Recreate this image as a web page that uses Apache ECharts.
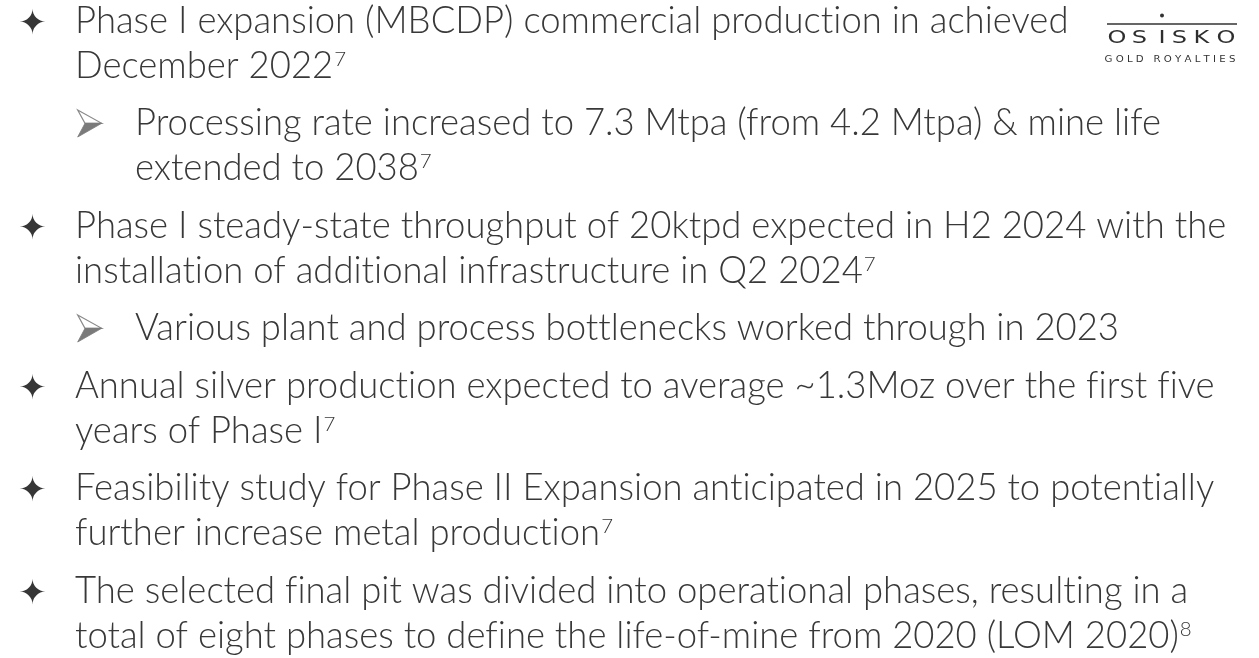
<!DOCTYPE html>
<html><head><meta charset="utf-8">
<script src="https://cdn.jsdelivr.net/npm/echarts@6/dist/echarts.min.js"></script>
<style>
html,body{margin:0;padding:0;background:#fff}
#c{width:1259px;height:658px}
</style>
</head><body><div id="c"></div>
<script>
// disable ligatures (Lato "ti"/"fi") for canvas text, consistently for measuring and drawing
(function () {
  const P = CanvasRenderingContext2D.prototype;
  const f = P.fillText, m = P.measureText;
  P.fillText = function () { try { this.textRendering = 'optimizeSpeed'; } catch (e) {} return f.apply(this, arguments); };
  P.measureText = function () { try { this.textRendering = 'optimizeSpeed'; } catch (e) {} return m.apply(this, arguments); };
})();

// ---- content ----
const bulletLevels = [1, 2, 1, 2, 1, 1, 1];
const bulletLines = [
  ["Phase I expansion (MBCDP) commercial production in achieved", "December 2022"],
  ["Processing rate increased to 7.3 Mtpa (from 4.2 Mtpa) & mine life", "extended to 2038"],
  ["Phase I steady-state throughput of 20ktpd expected in H2 2024 with the", "installation of additional infrastructure in Q2 2024"],
  ["Various plant and process bottlenecks worked through in 2023"],
  ["Annual silver production expected to average ~1.3Moz over the first five", "years of Phase I"],
  ["Feasibility study for Phase II Expansion anticipated in 2025 to potentially", "further increase metal production"],
  ["The selected final pit was divided into operational phases, resulting in a", "total of eight phases to define the life-of-mine from 2020 (LOM 2020)"]
];
const footnoteRefs = ["7", "7", "7", "", "7", "7", "8"];
const starGlyph = "\u2726";
const logoLetters = ["O", "S", "I", "S", "K", "O"];
const logoTagline = "G O L D   R O Y A L T I E S";

// ---- layout ----
const FAMILY = 'Lato, "Open Sans", sans-serif';
const WEIGHT = 300;
const TEXT_COLOR = '#383838';
const ctx = document.createElement('canvas').getContext('2d');
function measure(t, font) { ctx.font = font; return ctx.measureText(t).width; }

const refWidth = 1140;
const F = 1.01 * 100 * refWidth / measure(bulletLines[2][0], WEIGHT + ' 100px ' + FAMILY);
const FS = F * 0.56;
const mainFont = WEIGHT + ' ' + F.toFixed(2) + 'px ' + FAMILY;
const supFont = WEIGHT + ' ' + FS.toFixed(2) + 'px ' + FAMILY;

const firstBaseline = 35, lineStep = 45, paraGap = 57.5;
const textX = { 1: 75, 2: 135 };
const MID = 0.387;

const graphics = [];
let baseline = firstBaseline;
bulletLines.forEach((lines, pi) => {
  const lvl = bulletLevels[pi];
  if (pi > 0) baseline += paraGap;
  if (lvl === 1) {
    graphics.push({
      type: 'text', x: 32.5, y: baseline - 10,
      style: { text: starGlyph, x: 0, y: 0, textAlign: 'center', textVerticalAlign: 'middle',
        font: '34px "DejaVu Sans"', fill: '#363636' }
    });
  } else {
    const b = baseline;
    graphics.push({
      type: 'polygon',
      shape: { points: [[77.7, b - 27.5], [101.7, b - 14.2], [85, b - 14.2]] },
      style: { fill: '#fff', stroke: '#8a8a8a', lineWidth: 1.2, lineJoin: 'miter' }
    });
    graphics.push({
      type: 'polygon',
      shape: { points: [[85, b - 14.2], [101.7, b - 14.2], [77.7, b - 0.5]] },
      style: { fill: '#7a7a7a', stroke: '#7a7a7a', lineWidth: 0.8 }
    });
  }
  lines.forEach((ln, li) => {
    if (li > 0) baseline += lineStep;
    graphics.push({
      type: 'text',
      style: { text: ln, x: textX[lvl], y: baseline - MID * F, textVerticalAlign: 'middle', font: mainFont, fill: TEXT_COLOR }
    });
    if (li === lines.length - 1 && footnoteRefs[pi]) {
      const w = measure(ln, mainFont);
      graphics.push({
        type: 'text',
        style: { text: footnoteRefs[pi], x: textX[lvl] + w + 1, y: baseline - 13 - MID * FS, textVerticalAlign: 'middle', font: supFont, fill: TEXT_COLOR }
      });
    }
  });
});

// ---- logo ----
const logoCenters = [1117, 1139.5, 1162, 1179.5, 1201.5, 1226];
logoLetters.forEach((ch, i) => {
  graphics.push({
    type: 'text', x: logoCenters[i], y: 38.5, scaleX: 1.3,
    style: { text: ch, x: 0, y: 0, textAlign: 'center', textVerticalAlign: 'middle', font: '18.5px "DejaVu Sans"', fill: '#2e2e2e' }
  });
});
graphics.push({ type: 'line', shape: { x1: 1107, y1: 24, x2: 1237, y2: 24 }, style: { stroke: '#333', lineWidth: 1.5 } });
graphics.push({ type: 'circle', shape: { cx: 1162, cy: 15.5, r: 2 }, style: { fill: '#333' } });
const tagFont = '8px "DejaVu Sans"';
const tagW = measure(logoTagline, tagFont);
graphics.push({
  type: 'text', x: 1170, y: 60, scaleX: 131 / tagW,
  style: { text: logoTagline, x: 0, y: 0, textAlign: 'center', textVerticalAlign: 'middle', font: tagFont, fill: '#333' }
});

const chart = echarts.init(document.getElementById('c'), null, { renderer: 'canvas' });
chart.setOption({
  backgroundColor: '#fff',
  animation: false,
  graphic: { elements: graphics }
});
</script>
</body></html>
